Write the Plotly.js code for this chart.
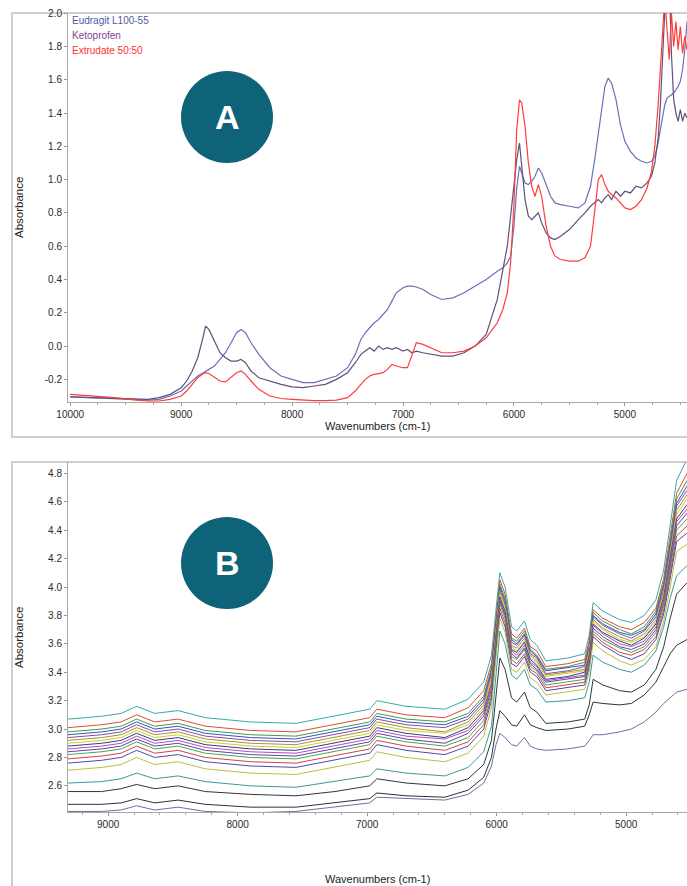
<!DOCTYPE html>
<html><head><meta charset="utf-8">
<script src="https://cdn.plot.ly/plotly-3.0.1.min.js"></script>
<style>html,body{margin:0;padding:0;background:#fff;} #chart{width:687px;height:886px;}</style>
</head><body><div id="chart"></div>
<script>
// ---------- Panel A data ----------
const wnA = [10000,9800,9600,9400,9300,9200,9100,9000,8950,8900,8850,8800,8780,8750,8700,8650,8600,8550,8500,8460,8420,8370,8300,8200,8100,8000,7900,7800,7700,7600,7500,7430,7380,7340,7300,7260,7220,7180,7140,7100,7060,7000,6960,6920,6880,6820,6750,6650,6550,6450,6350,6250,6150,6100,6060,6030,6000,5975,5950,5930,5900,5870,5840,5810,5780,5750,5710,5670,5630,5580,5500,5420,5360,5310,5270,5240,5210,5180,5150,5120,5080,5040,5000,4950,4900,4850,4800,4760,4730,4700,4680,4660,4640,4620,4600,4580,4560,4540,4520,4500,4480,4460,4440];
const eudragit = [-0.305,-0.31,-0.315,-0.32,-0.325,-0.32,-0.30,-0.27,-0.24,-0.21,
-0.18,-0.16,-0.15,-0.14,-0.12,-0.08,-0.04,0.02,0.08,0.10,
0.08,0.02,-0.05,-0.13,-0.18,-0.20,-0.22,-0.22,-0.20,-0.18,
-0.13,-0.05,0.04,0.08,0.11,0.14,0.16,0.19,0.22,0.27,
0.32,0.35,0.36,0.36,0.355,0.34,0.31,0.28,0.29,0.32,
0.36,0.40,0.45,0.47,0.50,0.54,0.72,0.95,1.08,1.04,
0.98,0.97,0.99,1.02,1.07,1.04,0.97,0.90,0.86,0.85,
0.84,0.83,0.86,0.96,1.13,1.27,1.43,1.56,1.61,1.58,
1.48,1.33,1.23,1.17,1.13,1.11,1.10,1.11,1.14,1.22,
1.30,1.38,1.45,1.49,1.50,1.51,1.52,1.54,1.56,1.59,
1.66,1.78,1.95];
const ketoprofen = [-0.305,-0.31,-0.315,-0.32,-0.32,-0.31,-0.29,-0.25,-0.21,-0.15,
-0.07,0.06,0.12,0.10,0.03,-0.04,-0.07,-0.09,-0.09,-0.08,
-0.10,-0.15,-0.19,-0.21,-0.23,-0.245,-0.25,-0.24,-0.23,-0.20,
-0.16,-0.10,-0.05,-0.03,-0.01,-0.03,0.00,-0.02,-0.01,-0.02,
-0.01,-0.03,-0.02,-0.04,-0.03,-0.04,-0.05,-0.06,-0.06,-0.04,
0.00,0.07,0.28,0.45,0.60,0.78,0.95,1.12,1.22,1.08,
0.88,0.78,0.76,0.78,0.80,0.74,0.68,0.65,0.64,0.66,
0.70,0.76,0.80,0.84,0.86,0.88,0.86,0.89,0.91,0.88,
0.93,0.90,0.93,0.92,0.96,0.95,0.98,1.02,1.10,1.25,
1.45,1.75,2.05,2.30,2.20,1.75,1.48,1.40,1.35,1.42,
1.35,1.40,1.37];
const extrudate = [-0.29,-0.30,-0.31,-0.325,-0.33,-0.33,-0.32,-0.30,-0.27,-0.23,
-0.19,-0.165,-0.16,-0.165,-0.19,-0.21,-0.215,-0.19,-0.16,-0.15,
-0.17,-0.21,-0.26,-0.30,-0.315,-0.32,-0.325,-0.328,-0.328,-0.325,
-0.31,-0.27,-0.23,-0.20,-0.18,-0.17,-0.165,-0.16,-0.14,-0.11,
-0.12,-0.13,-0.13,-0.06,0.02,0.01,-0.01,-0.04,-0.04,-0.03,
0.00,0.05,0.14,0.22,0.32,0.50,0.85,1.30,1.48,1.46,
1.32,1.10,0.96,0.90,0.97,0.90,0.72,0.60,0.54,0.52,
0.51,0.51,0.53,0.60,0.82,1.00,1.03,0.97,0.93,0.91,
0.89,0.86,0.83,0.82,0.84,0.88,0.95,1.05,1.20,1.45,
1.70,1.95,2.10,1.90,1.72,2.00,1.80,1.95,1.78,1.92,
1.76,1.86,1.78];
const legendNamesA = ['Eudragit L100-55','Ketoprofen','Extrudate 50:50'];
const xTicksA = [10000,9000,8000,7000,6000,5000];
const yTicksA = [-0.2,0,0.2,0.4,0.6,0.8,1.0,1.2,1.4,1.6,1.8,2.0];
const yTickTextA = ['-0.2','0.0','0.2','0.4','0.6','0.8','1.0','1.2','1.4','1.6','1.8','2.0'];

// ---------- Panel B data ----------
const wnB = [9310,9050,8900,8780,8640,8460,8250,7900,7550,7250,6980,6925,6700,6400,6220,6100,6040,6005,5975,5935,5885,5845,5785,5740,5690,5620,5450,5320,5285,5255,5180,5050,4960,4860,4770,4710,4660,4610,4530];
const specB01 = [3.07,3.09,3.11,3.16,3.11,3.13,3.08,3.05,3.04,3.09,3.14,3.20,3.16,3.14,3.21,3.33,3.52,3.84,4.10,4.00,3.72,3.69,3.76,3.63,3.59,3.48,3.50,3.53,3.66,3.89,3.83,3.77,3.75,3.80,3.91,4.12,4.42,4.75,4.90];
const specB02 = [3.01,3.03,3.05,3.10,3.05,3.07,3.02,2.99,2.98,3.03,3.08,3.14,3.10,3.08,3.15,3.27,3.46,3.78,4.05,3.95,3.67,3.64,3.71,3.58,3.55,3.44,3.46,3.49,3.62,3.84,3.78,3.72,3.70,3.75,3.85,4.06,4.35,4.66,4.80];
const specB03 = [2.98,3.00,3.02,3.07,3.02,3.04,2.99,2.96,2.95,3.00,3.05,3.11,3.07,3.05,3.11,3.23,3.43,3.75,4.02,3.92,3.64,3.62,3.69,3.56,3.52,3.42,3.44,3.47,3.59,3.82,3.76,3.70,3.67,3.72,3.83,4.03,4.31,4.62,4.75];
const specB04 = [2.96,2.98,3.00,3.05,3.00,3.02,2.97,2.94,2.93,2.98,3.03,3.09,3.05,3.03,3.09,3.21,3.41,3.73,4.00,3.90,3.63,3.60,3.67,3.55,3.51,3.41,3.43,3.45,3.58,3.80,3.74,3.68,3.66,3.70,3.81,4.01,4.29,4.59,4.71];
const specB05 = [2.94,2.96,2.98,3.03,2.98,3.00,2.95,2.92,2.91,2.96,3.01,3.07,3.03,3.01,3.07,3.19,3.39,3.72,3.98,3.88,3.61,3.59,3.66,3.53,3.50,3.39,3.41,3.44,3.57,3.79,3.73,3.67,3.64,3.69,3.79,3.99,4.27,4.57,4.68];
const specB06 = [2.92,2.94,2.96,3.01,2.96,2.98,2.93,2.90,2.89,2.94,2.99,3.05,3.01,2.98,3.05,3.17,3.36,3.70,3.97,3.87,3.59,3.57,3.64,3.52,3.48,3.38,3.40,3.42,3.55,3.77,3.71,3.65,3.62,3.67,3.77,3.97,4.24,4.54,4.65];
const specB07 = [2.90,2.92,2.94,2.99,2.94,2.96,2.91,2.88,2.87,2.92,2.97,3.03,2.99,2.97,3.03,3.15,3.35,3.68,3.95,3.85,3.58,3.55,3.62,3.50,3.47,3.37,3.39,3.41,3.54,3.76,3.70,3.63,3.61,3.65,3.75,3.95,4.22,4.51,4.62];
const specB08 = [2.88,2.90,2.92,2.97,2.92,2.94,2.89,2.86,2.85,2.90,2.95,3.01,2.97,2.94,3.01,3.13,3.32,3.66,3.93,3.83,3.56,3.54,3.61,3.49,3.45,3.35,3.37,3.40,3.52,3.74,3.68,3.62,3.59,3.64,3.74,3.93,4.20,4.48,4.58];
const specB09 = [2.86,2.88,2.90,2.95,2.90,2.92,2.87,2.84,2.83,2.88,2.93,2.99,2.95,2.93,2.99,3.11,3.31,3.64,3.91,3.81,3.55,3.52,3.59,3.47,3.44,3.34,3.36,3.38,3.51,3.73,3.67,3.60,3.58,3.62,3.72,3.91,4.18,4.46,4.55];
const specB10 = [2.84,2.86,2.88,2.93,2.88,2.90,2.85,2.82,2.81,2.86,2.91,2.97,2.93,2.90,2.97,3.09,3.28,3.62,3.90,3.80,3.53,3.50,3.57,3.46,3.42,3.33,3.35,3.37,3.49,3.71,3.65,3.58,3.56,3.60,3.70,3.89,4.15,4.43,4.52];
const specB11 = [2.82,2.84,2.86,2.91,2.86,2.88,2.83,2.80,2.79,2.84,2.89,2.95,2.91,2.88,2.94,3.06,3.26,3.60,3.88,3.78,3.51,3.49,3.56,3.44,3.41,3.31,3.33,3.35,3.48,3.69,3.63,3.57,3.54,3.58,3.68,3.87,4.13,4.40,4.48];
const specB12 = [2.79,2.81,2.83,2.88,2.83,2.85,2.80,2.77,2.76,2.81,2.86,2.92,2.88,2.85,2.91,3.03,3.23,3.57,3.85,3.75,3.49,3.46,3.53,3.42,3.39,3.29,3.31,3.33,3.46,3.67,3.61,3.54,3.52,3.56,3.65,3.84,4.09,4.36,4.43];
const specB13 = [2.76,2.78,2.80,2.85,2.80,2.82,2.77,2.74,2.73,2.78,2.83,2.89,2.85,2.82,2.88,3.00,3.20,3.55,3.82,3.72,3.46,3.44,3.51,3.40,3.37,3.27,3.29,3.31,3.44,3.65,3.59,3.52,3.49,3.53,3.63,3.81,4.06,4.32,4.38];
const specB14 = [2.71,2.73,2.75,2.80,2.75,2.77,2.72,2.69,2.68,2.73,2.78,2.84,2.80,2.77,2.83,2.95,3.15,3.50,3.78,3.68,3.42,3.40,3.47,3.36,3.33,3.24,3.26,3.28,3.40,3.61,3.55,3.48,3.45,3.49,3.58,3.76,4.00,4.25,4.30];
const specB15 = [2.62,2.63,2.65,2.69,2.65,2.67,2.63,2.60,2.59,2.63,2.67,2.72,2.69,2.67,2.73,2.84,3.02,3.38,3.69,3.60,3.38,3.35,3.42,3.31,3.28,3.19,3.20,3.22,3.33,3.52,3.47,3.42,3.40,3.45,3.55,3.72,3.92,4.08,4.15];
const specB16 = [2.56,2.56,2.58,2.61,2.58,2.60,2.56,2.54,2.53,2.56,2.60,2.65,2.62,2.60,2.65,2.75,2.92,3.23,3.50,3.42,3.22,3.19,3.26,3.15,3.12,3.04,3.05,3.07,3.17,3.35,3.31,3.27,3.26,3.31,3.42,3.58,3.78,3.95,4.03];
const specB17 = [2.47,2.47,2.48,2.51,2.48,2.50,2.47,2.45,2.45,2.48,2.51,2.55,2.53,2.52,2.57,2.66,2.80,3.00,3.13,3.09,3.03,3.02,3.10,3.03,3.01,2.99,3.00,3.02,3.10,3.19,3.18,3.17,3.18,3.24,3.33,3.44,3.53,3.59,3.63];
const specB18 = [2.42,2.42,2.43,2.46,2.43,2.45,2.42,2.41,2.42,2.45,2.48,2.52,2.51,2.50,2.54,2.62,2.74,2.89,2.97,2.94,2.89,2.88,2.94,2.88,2.86,2.85,2.86,2.88,2.92,2.96,2.96,2.98,3.00,3.05,3.12,3.18,3.22,3.26,3.28];
const xTicksB = [9000,8000,7000,6000,5000];
const yTicksB = [2.6,2.8,3.0,3.2,3.4,3.6,3.8,4.0,4.2,4.4,4.6,4.8];
const yTickTextB = ['2.6','2.8','3.0','3.2','3.4','3.6','3.8','4.0','4.2','4.4','4.6','4.8'];

// ---------- styling ----------
const W = 687, H = 886;
const px = v => v / W, py = v => 1 - v / H;
const FONT = 'Liberation Sans, Arial, sans-serif';
const colorsA = ['#6a70b8', '#62507a', '#ff3c3c'];
const legendColorsA = ['#4f5aa0', '#7d4590', '#ff3030'];
const specsB = [specB01,specB02,specB03,specB04,specB05,specB06,specB07,specB08,specB09,specB10,specB11,specB12,specB13,specB14,specB15,specB16,specB17,specB18];
const colorsB = ['#3aa8a8','#e04a3a','#3aa040','#3a50c0','#8a4aa8','#9a9a30','#d8c828','#303c90','#b050b0','#6a40a0','#40a858','#d84040','#5048a8','#b8c040','#3a9a9a','#2e3838','#1f3a2c','#7a6a9a'];

const traces = [];
[eudragit, ketoprofen, extrudate].forEach((ys, i) => {
  traces.push({x: wnA, y: ys, type: 'scatter', mode: 'lines', xaxis: 'x', yaxis: 'y',
    line: {color: colorsA[i], width: 1.2}, name: legendNamesA[i], hoverinfo: 'skip'});
});
specsB.forEach((ys, i) => {
  traces.push({x: wnB, y: ys, type: 'scatter', mode: 'lines', xaxis: 'x2', yaxis: 'y2',
    line: {color: colorsB[i], width: 1}, hoverinfo: 'skip', showlegend: false});
});

const axBase = {
  showgrid: false, zeroline: false, showline: true, linecolor: '#a8a8a8', linewidth: 1,
  ticks: 'outside', ticklen: 3, tickcolor: '#999', tickwidth: 1,
  tickfont: {family: FONT, size: 10, color: '#2a2a2a'}, fixedrange: true
};

const layout = {
  width: W, height: H, margin: {l: 0, r: 0, t: 0, b: 0},
  paper_bgcolor: '#fff', plot_bgcolor: 'rgba(0,0,0,0)', showlegend: false,
  font: {family: FONT},
  xaxis: Object.assign({}, axBase, {domain: [px(68), 1], range: [10020, 4440], anchor: 'y',
    tickmode: 'array', tickvals: xTicksA, ticktext: xTicksA.map(String),
    minor: {tickmode: 'linear', tick0: 0, dtick: 250, ticks: 'outside', ticklen: 2, tickcolor: '#aaa'}}),
  yaxis: Object.assign({}, axBase, {domain: [py(402), py(13)], range: [-0.336, 2.001], anchor: 'x',
    tickmode: 'array', tickvals: yTicksA, ticktext: yTickTextA}),
  xaxis2: Object.assign({}, axBase, {domain: [px(68), 1], range: [9310, 4530], anchor: 'y2',
    tickmode: 'array', tickvals: xTicksB, ticktext: xTicksB.map(String),
    minor: {tickmode: 'linear', tick0: 0, dtick: 200, ticks: 'outside', ticklen: 2, tickcolor: '#aaa'}}),
  yaxis2: Object.assign({}, axBase, {domain: [py(812), py(462)], range: [2.416, 4.88], anchor: 'x2',
    tickmode: 'array', tickvals: yTicksB, ticktext: yTickTextB}),
  shapes: [
    {type: 'rect', xref: 'paper', yref: 'paper', x0: px(12), x1: px(700), y0: py(437), y1: py(13),
      line: {color: '#cfcfcf', width: 2}, fillcolor: 'rgba(0,0,0,0)', layer: 'below'},
    {type: 'rect', xref: 'paper', yref: 'paper', x0: px(12), x1: px(700), y0: py(895), y1: py(462),
      line: {color: '#cfcfcf', width: 2}, fillcolor: 'rgba(0,0,0,0)', layer: 'below'},
    {type: 'circle', xref: 'paper', yref: 'paper', x0: px(181), x1: px(273), y0: py(163), y1: py(71),
      fillcolor: '#0f6378', line: {width: 0}, layer: 'above'},
    {type: 'circle', xref: 'paper', yref: 'paper', x0: px(181), x1: px(273), y0: py(609), y1: py(517),
      fillcolor: '#0f6378', line: {width: 0}, layer: 'above'}
  ],
  annotations: [
    {text: 'Wavenumbers (cm-1)', xref: 'paper', yref: 'paper', x: px(377), y: py(426), showarrow: false,
      font: {family: FONT, size: 11, color: '#222'}, xanchor: 'center', yanchor: 'middle'},
    {text: 'Wavenumbers (cm-1)', xref: 'paper', yref: 'paper', x: px(377), y: py(879), showarrow: false,
      font: {family: FONT, size: 11, color: '#222'}, xanchor: 'center', yanchor: 'middle'},
    {text: 'Absorbance', xref: 'paper', yref: 'paper', x: px(19), y: py(208), showarrow: false, textangle: -90,
      font: {family: FONT, size: 11.5, color: '#222'}, xanchor: 'center', yanchor: 'middle'},
    {text: 'Absorbance', xref: 'paper', yref: 'paper', x: px(19), y: py(638), showarrow: false, textangle: -90,
      font: {family: FONT, size: 11.5, color: '#222'}, xanchor: 'center', yanchor: 'middle'},
    {text: '<b>A</b>', xref: 'paper', yref: 'paper', x: px(227), y: py(117), showarrow: false,
      font: {family: FONT, size: 34, color: '#ffffff'}, xanchor: 'center', yanchor: 'middle'},
    {text: '<b>B</b>', xref: 'paper', yref: 'paper', x: px(227), y: py(563), showarrow: false,
      font: {family: FONT, size: 34, color: '#ffffff'}, xanchor: 'center', yanchor: 'middle'}
  ].concat(legendNamesA.map((t, i) => ({
    text: t, xref: 'paper', yref: 'paper', x: px(70), y: py(21 + 14.5 * i), showarrow: false,
    font: {family: FONT, size: 10, color: legendColorsA[i]}, xanchor: 'left', yanchor: 'middle'
  })))
};

Plotly.newPlot('chart', traces, layout, {displayModeBar: false, staticPlot: true});
</script></body></html>
